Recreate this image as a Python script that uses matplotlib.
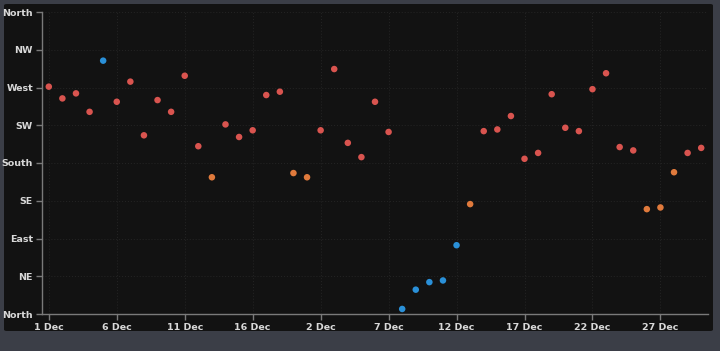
import numpy as np
import matplotlib.pyplot as plt
from matplotlib.patches import FancyBboxPatch

# 日期标签（两段 12 月数据拼在一起）
day_labels = [f"{d} Dec" for d in range(1, 20)] + [f"{d} Dec" for d in range(1, 31)]
# 风向（度，0 = North）
wind_dir = [271, 257, 263, 241, 302, 253, 277, 213, 255, 241,
            284, 200, 163, 226, 211, 219, 261, 265, 168, 163,
            219, 292, 204, 187, 253, 217, 6, 29, 38, 40,
            82, 131, 218, 220, 236, 185, 192, 262, 222, 218,
            268, 287, 199, 195, 125, 127, 169, 192, 198]
# 点颜色分组
groups = ['r', 'r', 'r', 'r', 'b', 'r', 'r', 'r', 'r', 'r',
          'r', 'r', 'o', 'r', 'r', 'r', 'r', 'r', 'o', 'o',
          'r', 'r', 'r', 'r', 'r', 'r', 'b', 'b', 'b', 'b',
          'b', 'o', 'r', 'r', 'r', 'r', 'r', 'r', 'r', 'r',
          'r', 'r', 'r', 'r', 'o', 'o', 'o', 'r', 'r']
dir_labels = ['North', 'NE', 'East', 'SE', 'South', 'SW', 'West', 'NW', 'North']

palette = {'r': '#d9544f', 'o': '#e07a3c', 'b': '#2a90d8'}

fig = plt.figure(figsize=(7.2, 3.51), dpi=100)
fig.patch.set_facecolor('#3b3e47')
# 深色面板
panel = FancyBboxPatch((4 / 720, 20 / 351), 709 / 720, 327 / 351,
                       boxstyle='round,pad=0,rounding_size=0.004',
                       transform=fig.transFigure, fc='#121212', ec='none', zorder=-10)
fig.patches.append(panel)

ax = fig.add_axes([42 / 720, 37 / 351, 666 / 720, 302 / 351])
ax.set_facecolor('none')

x = np.arange(len(wind_dir))
ax.scatter(x, wind_dir, s=22, c=[palette[g] for g in groups], zorder=3, linewidths=0)

ax.set_xlim(-0.5, len(wind_dir) - 0.5)
ax.set_ylim(0, 360)
ax.set_yticks(np.arange(0, 361, 45))
ax.set_yticklabels(dir_labels)
ax.set_xticks(x[::5])
ax.set_xticklabels(day_labels[::5])

for s in ['top', 'right']:
    ax.spines[s].set_visible(False)
for s in ['left', 'bottom']:
    ax.spines[s].set_color('#7a7a7a')
    ax.spines[s].set_linewidth(1)
ax.tick_params(colors='#7a7a7a', labelcolor='#d8d8d8', labelsize=6.8, length=4, width=1, pad=2.5)
for lab in ax.get_xticklabels() + ax.get_yticklabels():
    lab.set_fontweight('bold')
ax.grid(True, color='#222222', linestyle=':', linewidth=0.8, zorder=0)

fig.savefig('out.png', dpi=100, facecolor=fig.get_facecolor())
